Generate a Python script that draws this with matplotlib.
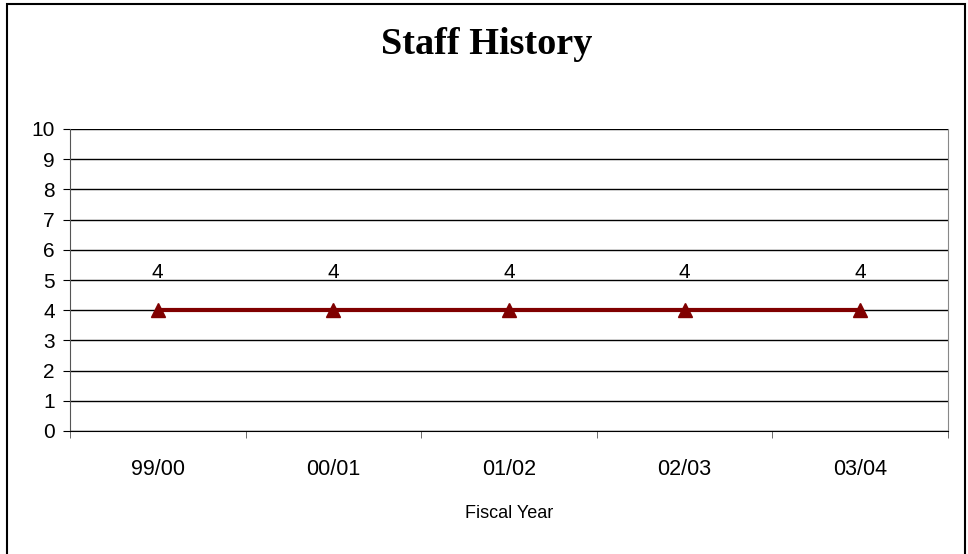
import matplotlib.pyplot as plt
from matplotlib.patches import Rectangle

# data
years = ['99/00', '00/01', '01/02', '02/03', '03/04']
staff = [4, 4, 4, 4, 4]

fig = plt.figure(figsize=(9.68, 5.54), dpi=100)
ax = fig.add_axes([70/968, 1-431/554, (948-70)/968, (431-129)/554])

# outer border
fig.patches.append(Rectangle((7/968, -0.05), (965-7)/968, 1.05-4/554,
                             transform=fig.transFigure, fill=False,
                             edgecolor='black', linewidth=1.5))

x = range(len(years))
ax.plot(x, staff, color='#800000', linewidth=3, marker='^', markersize=10, zorder=3)
for xi, v in zip(x, staff):
    ax.annotate(str(v), (xi, v), xytext=(0, 23), textcoords='offset points',
                ha='center', va='baseline', fontsize=15, family='Liberation Sans')

ax.set_xlim(-0.5, len(years) - 0.5)
ax.set_ylim(0, 10)
ax.set_yticks(range(0, 11))
ax.yaxis.grid(True, color='black', linewidth=1)
ax.set_axisbelow(True)

ax.set_xticks(list(x))
ax.set_xticklabels(years, fontsize=15.5, family='Liberation Sans')
ax.set_xticks([i - 0.5 for i in range(len(years) + 1)], minor=True)
ax.tick_params(axis='x', which='major', length=0, pad=20)
ax.tick_params(axis='x', which='minor', length=5, color='#555555')
ax.tick_params(axis='y', length=5, pad=6, labelsize=15)
for t in ax.get_yticklabels():
    t.set_family('Liberation Sans')

ax.spines['top'].set_visible(False)
ax.spines['right'].set_color('#888888')
ax.spines['left'].set_color('#555555')
ax.set_xlabel('Fiscal Year', fontsize=13, family='Liberation Sans', labelpad=18)

fig.text(487/968, 1-45/554, 'Staff History', ha='center', va='center',
         fontsize=27.5, fontweight='bold', family='Liberation Serif')

fig.savefig('out.png', dpi=100)
